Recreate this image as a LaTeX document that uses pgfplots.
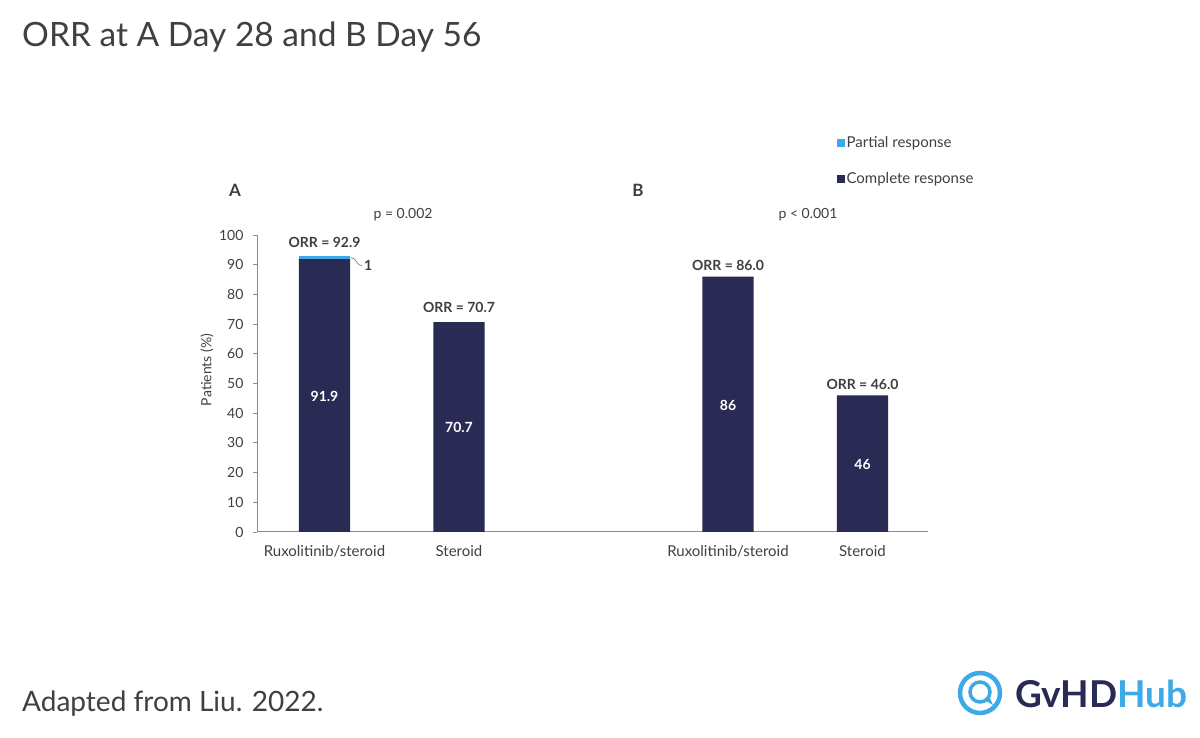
\documentclass[border=0pt]{standalone}
\usepackage{pgfplots}
\pgfplotsset{compat=1.18}
\usepackage{fontspec}
\setmainfont{Lato}
\definecolor{navy}{HTML}{292B55}
\definecolor{lblue}{HTML}{3DA9E6}
\definecolor{axgray}{HTML}{8C8C8C}
\definecolor{txt}{HTML}{404040}
\begin{document}
\begin{tikzpicture}[x=1pt,y=1pt]
\useasboundingbox[fill=white] (0,0) rectangle (1200,738);
\node[anchor=base west, font=\fontsize{33.5}{38}\selectfont, text=txt, inner sep=0] at (22,691) {ORR at A Day 28 and B Day 56};
\node[anchor=base west, font=\fontsize{28}{34}\selectfont, text=txt, inner sep=0] at (22,26) {Adapted from Liu. 2022.};
% logo
\draw[lblue, line width=4.5] (980,45) circle (20);
\draw[lblue, line width=3.5] (980,46) circle (10);
\fill[lblue] (984,38) -- (993,33) -- (989,42) -- cycle;
\node[anchor=base west, font=\fontsize{37}{40}\selectfont\bfseries, inner sep=0] at (1015,30) {\textcolor{navy}{GvHD}\textcolor{lblue}{Hub}};
\node[rotate=90, font=\fontsize{14}{16}\selectfont, text=txt] at (207,368) {Patients (\%)};
\begin{axis}[
  at={(257pt,206pt)}, anchor=south west, scale only axis,
  width=671pt, height=297pt,
  xmin=-0.502, xmax=4.487, ymin=0, ymax=100,
  ybar stacked, bar width=0.38,
  axis x line=bottom, axis y line=left,
  axis line style={axgray, -, line width=1pt},
  ytick={0,10,...,100},
  xtick={0,1,3,4},
  xticklabels={Ruxolitinib/steroid, Steroid, Ruxolitinib/steroid, Steroid},
  x tick style={draw=none},
  y tick style={axgray, line width=0.8pt},
  tick align=outside, major tick length=4pt,
  /pgf/number format/assume math mode=true,
  ticklabel style={font=\fontsize{14}{16}\selectfont, text=txt},
  yticklabel style={xshift=-6pt},
  xticklabel style={font=\fontsize{15}{17}\selectfont, yshift=-6pt},
  clip=false,
  legend style={at={(0.859,1.345)}, anchor=north west, draw=none, fill=none,
    font=\fontsize{15}{17}\selectfont, text=txt, row sep=19pt},
  legend cell align=left,
  legend image code/.code={\fill[#1] (0pt,-4pt) rectangle (8pt,4pt);},
]
\addlegendimage{fill=lblue, draw=none}
\addlegendentry{Partial response}
\addlegendimage{fill=navy, draw=none}
\addlegendentry{Complete response}
\addplot[fill=navy, draw=none] coordinates {(0,91.9) (1,70.7) (3,86.0) (4,46.0)};
\addplot[fill=lblue, draw=none] coordinates {(0,1.0) (1,0) (3,0) (4,0)};
\node[text=txt, font=\fontsize{14}{17}\selectfont\bfseries] at (axis cs:0,97.65) {ORR = 92.9};
\node[text=txt, font=\fontsize{14}{17}\selectfont\bfseries] at (axis cs:1,75.5) {ORR = 70.7};
\node[text=txt, font=\fontsize{14}{17}\selectfont\bfseries] at (axis cs:3,89.9) {ORR = 86.0};
\node[text=txt, font=\fontsize{14}{17}\selectfont\bfseries] at (axis cs:4,49.7) {ORR = 46.0};
\coordinate (w1) at (axis cs:0,45.6);
\coordinate (w2) at (axis cs:1,35.2);
\coordinate (w3) at (axis cs:3,42.6);
\coordinate (w4) at (axis cs:4,22.8);
\node[text=txt, anchor=west, inner sep=1pt, font=\fontsize{14}{17}\selectfont\bfseries] at (axis cs:0.285,89.6) {1};
\node[text=txt, font=\fontsize{17}{20}\selectfont\bfseries] at (axis cs:-0.665,115.1) {A};
\node[text=txt, font=\fontsize{17}{20}\selectfont\bfseries] at (axis cs:2.331,115.1) {B};
\draw[axgray, line width=0.8pt] (axis cs:0.195,92.4) .. controls (axis cs:0.235,92.4) and (axis cs:0.24,89.6) .. (axis cs:0.28,89.6);
\node[text=txt, font=\fontsize{14}{16}\selectfont] at (axis cs:0.584,106.7) {p = 0.002};
\node[text=txt, font=\fontsize{14}{16}\selectfont] at (axis cs:3.595,106.7) {p < 0.001};
\end{axis}
\node[text=white, font=\fontsize{14}{17}\selectfont\bfseries] at (w1) {91.9};
\node[text=white, font=\fontsize{14}{17}\selectfont\bfseries] at (w2) {70.7};
\node[text=white, font=\fontsize{14}{17}\selectfont\bfseries] at (w3) {86};
\node[text=white, font=\fontsize{14}{17}\selectfont\bfseries] at (w4) {46};
\end{tikzpicture}
\end{document}
